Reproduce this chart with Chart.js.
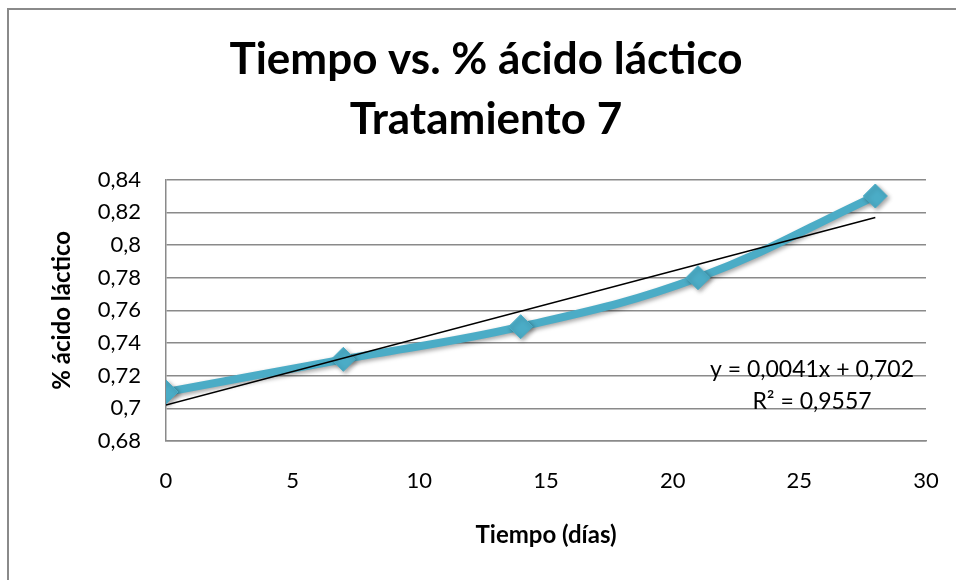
<!DOCTYPE html>
<html>
<head>
<meta charset="utf-8">
<script src="https://cdn.jsdelivr.net/npm/chart.js@4/dist/chart.umd.min.js"></script>
<style>
  html, body { margin: 0; padding: 0; background: #fff; }
  #wrap { width: 956px; height: 580px; }
</style>
</head>
<body>
<div id="wrap"><canvas id="c" width="956" height="580"></canvas></div>
<script>
// Measurements: time (days) vs. % lactic acid, treatment 7
const dias = [0, 7, 14, 21, 28];
const acidoLactico = [0.71, 0.73, 0.75, 0.78, 0.83];

// Axis ticks and their labels (comma decimal separator)
const xTicks = [0, 5, 10, 15, 20, 25, 30];
const xTickLabels = ['0', '5', '10', '15', '20', '25', '30'];
const yTicks = [0.68, 0.70, 0.72, 0.74, 0.76, 0.78, 0.80, 0.82, 0.84];
const yTickLabels = ['0,68', '0,7', '0,72', '0,74', '0,76', '0,78', '0,8', '0,82', '0,84'];

// Linear trendline: y = slope * x + intercept, drawn over the data range
const trendSlope = 0.0041;
const trendIntercept = 0.702;
const trendRange = [0, 28];
const rSquared = 0.9557;

const titleLines = ['Tiempo vs. % ácido láctico', 'Tratamiento 7'];
const xTitle = 'Tiempo (días)';
const yTitle = '% ácido láctico';

const FONT = 'Lato, "Open Sans", sans-serif';
const SERIES_COLOR = '#4BACC6';
const GRID_COLOR = '#8a8a8a';

const fmt = v => String(v).replace('.', ',');

const seriesPoints = dias.map((d, i) => ({ x: d, y: acidoLactico[i] }));
const trendPoints = trendRange.map(x => ({ x, y: trendIntercept + trendSlope * x }));

// White background and the chart frame (left and top edges)
const framePlugin = {
  id: 'frame',
  beforeDraw(chart) {
    const ctx = chart.ctx;
    ctx.save();
    ctx.fillStyle = '#fff';
    ctx.fillRect(0, 0, chart.width, chart.height);
    ctx.strokeStyle = '#8a8a8a';
    ctx.lineWidth = 2;
    ctx.beginPath();
    ctx.moveTo(8, chart.height);
    ctx.lineTo(8, 9);
    ctx.lineTo(chart.width, 9);
    ctx.stroke();
    ctx.restore();
  }
};

// Soft drop shadow under the data series
const shadowPlugin = {
  id: 'seriesShadow',
  beforeDatasetDraw(chart, args) {
    if (args.index !== 1) return;
    const ctx = chart.ctx;
    ctx.save();
    ctx.shadowColor = 'rgba(0,0,0,0.35)';
    ctx.shadowBlur = 4;
    ctx.shadowOffsetX = 2;
    ctx.shadowOffsetY = 2;
  },
  afterDatasetDraw(chart, args) {
    if (args.index !== 1) return;
    chart.ctx.restore();
  }
};

// Trendline equation and R² label
const equationPlugin = {
  id: 'equation',
  afterDatasetsDraw(chart) {
    const { ctx, chartArea } = chart;
    ctx.save();
    ctx.font = '23px ' + FONT;
    ctx.fillStyle = '#000';
    ctx.textAlign = 'center';
    ctx.textBaseline = 'middle';
    const cx = chartArea.right - 114;
    ctx.fillText('y = ' + fmt(trendSlope) + 'x + ' + fmt(trendIntercept), cx, chartArea.top + 190);
    ctx.fillText('R² = ' + fmt(rSquared), cx, chartArea.top + 222);
    ctx.restore();
  }
};

new Chart(document.getElementById('c'), {
  type: 'scatter',
  data: {
    datasets: [
      {
        label: 'Lineal',
        data: trendPoints,
        showLine: true,
        borderColor: '#000',
        borderWidth: 1.5,
        pointRadius: 0,
        tension: 0
      },
      {
        label: '% ácido láctico',
        data: seriesPoints,
        showLine: true,
        borderColor: SERIES_COLOR,
        borderWidth: 8,
        tension: 0.4,
        pointStyle: 'rectRot',
        pointRadius: 12,
        pointBackgroundColor: SERIES_COLOR,
        pointBorderColor: SERIES_COLOR,
        pointBorderWidth: 1
      }
    ]
  },
  options: {
    responsive: false,
    animation: false,
    devicePixelRatio: 1,
    layout: { padding: { left: 46, right: 30, top: 0, bottom: 27 } },
    plugins: {
      legend: { display: false },
      tooltip: { enabled: false },
      title: {
        display: true,
        text: titleLines,
        color: '#000',
        font: { family: FONT, size: 44, weight: 'bold', lineHeight: 1.36 },
        padding: { top: 30, bottom: 30 }
      }
    },
    scales: {
      x: {
        type: 'linear',
        min: 0,
        max: 30,
        afterBuildTicks: s => { s.ticks = xTicks.map(v => ({ value: v })); },
        afterFit: s => { s.height = 112; s.paddingLeft = 0; s.paddingRight = 0; },
        ticks: {
          callback: (v, i) => xTickLabels[i],
          color: '#000',
          font: { family: FONT, size: 22 },
          padding: 27,
          maxRotation: 0
        },
        grid: { display: false, drawTicks: false },
        border: { display: true, color: GRID_COLOR, width: 1.5 },
        title: {
          display: true,
          text: xTitle,
          color: '#000',
          font: { family: FONT, size: 24, weight: 'bold', lineHeight: 1.0 },
          padding: { top: 4, bottom: 6 }
        }
      },
      y: {
        type: 'linear',
        min: 0.68,
        max: 0.84,
        afterBuildTicks: s => { s.ticks = yTicks.map(v => ({ value: v })); },
        afterFit: s => { s.width = 120; },
        ticks: {
          callback: (v, i) => yTickLabels[i],
          color: '#000',
          font: { family: FONT, size: 22 },
          padding: 25
        },
        grid: { color: GRID_COLOR, lineWidth: 1.5, drawTicks: false },
        border: { display: true, color: GRID_COLOR, width: 1.5 },
        title: {
          display: true,
          text: yTitle,
          color: '#000',
          font: { family: FONT, size: 24, weight: 'bold', lineHeight: 1.0 },
          padding: { top: 4, bottom: 4 }
        }
      }
    }
  },
  plugins: [framePlugin, shadowPlugin, equationPlugin]
});
</script>
</body>
</html>
